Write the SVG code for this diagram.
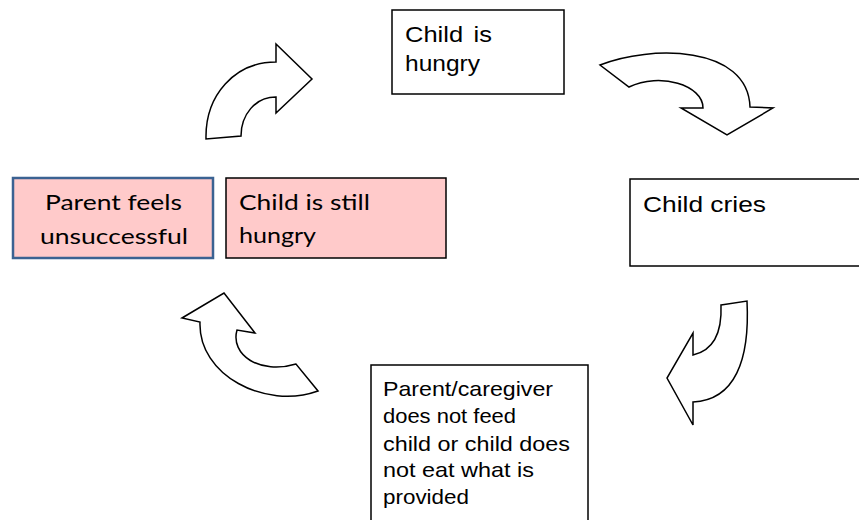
<svg xmlns="http://www.w3.org/2000/svg" width="859" height="520" viewBox="0 0 859 520">
<style>
.box{fill:#ffffff;stroke:#000000;stroke-width:1.5}
.pink{fill:#ffcaca;stroke:#000000;stroke-width:1.5}
.pinkblue{fill:#ffcaca;stroke:#3b6292;stroke-width:2.5}
.arr{fill:#ffffff;stroke:#000000;stroke-width:1.5;stroke-linejoin:miter}
.t{font-family:"Liberation Sans",Arial,sans-serif;font-size:22px;fill:#000000}
.t2{font-family:"Liberation Sans",Arial,sans-serif;font-size:21px;fill:#000000}
.c{font-family:Lato,"Liberation Sans",sans-serif;font-size:21px;fill:#000000}
</style>
<rect width="859" height="520" fill="#ffffff"/>
<g id="connectors">
<path class="arr" d="M206,139 C205,95 235,62 276,62 L276,44 L312,79 L276,113 L276,97 C255,97 241,115 241,136 Z"/>
<path class="arr" d="M600,65 C650,45 748,45 750,107 L773,108 L727,135 L681,108 L703,108 C703,85 660,72 629,87 Z"/>
<path class="arr" d="M721,305 L747,301 C750,360 735,400 693,402 L693,425 L667,378 L693,333 L693,355 C715,350 722,330 721,305 Z"/>
<path class="arr" d="M182,318 L224,293 L255,333 L237,330 C230,355 260,375 296,364 L318,391 C265,410 198,375 200,322 Z"/>
</g>
<g id="node-hungry">
<rect class="box" x="392" y="10" width="172" height="84"/>
<text class="t" x="405" y="42" textLength="87" lengthAdjust="spacingAndGlyphs" style="word-spacing:3px">Child is</text>
<text class="t" x="405" y="71" textLength="75" lengthAdjust="spacingAndGlyphs">hungry</text>
</g>
<g id="node-cries">
<rect class="box" x="630" y="179" width="232" height="87"/>
<text class="t" x="643" y="212" textLength="123" lengthAdjust="spacingAndGlyphs">Child cries</text>
</g>
<g id="node-notfeed">
<rect class="box" x="371" y="365" width="217" height="160"/>
<text class="t2" x="383" y="396" textLength="170" lengthAdjust="spacingAndGlyphs">Parent/caregiver</text>
<text class="t2" x="383" y="423" textLength="133" lengthAdjust="spacingAndGlyphs">does not feed</text>
<text class="t2" x="383" y="451" textLength="187" lengthAdjust="spacingAndGlyphs">child or child does</text>
<text class="t2" x="383" y="477" textLength="151" lengthAdjust="spacingAndGlyphs">not eat what is</text>
<text class="t2" x="383" y="504" textLength="86" lengthAdjust="spacingAndGlyphs">provided</text>
</g>
<g id="node-stillhungry">
<rect class="pink" x="226" y="178" width="220" height="80"/>
<text class="c" x="239" y="210" textLength="131" lengthAdjust="spacingAndGlyphs">Child is still</text>
<text class="c" x="239" y="243" textLength="77" lengthAdjust="spacingAndGlyphs">hungry</text>
</g>
<g id="node-unsuccessful">
<rect class="pinkblue" x="13" y="178" width="200" height="80"/>
<text class="c" x="45" y="210" textLength="137" lengthAdjust="spacingAndGlyphs">Parent feels</text>
<text class="c" x="40" y="244" textLength="148" lengthAdjust="spacingAndGlyphs">unsuccessful</text>
</g>
</svg>
